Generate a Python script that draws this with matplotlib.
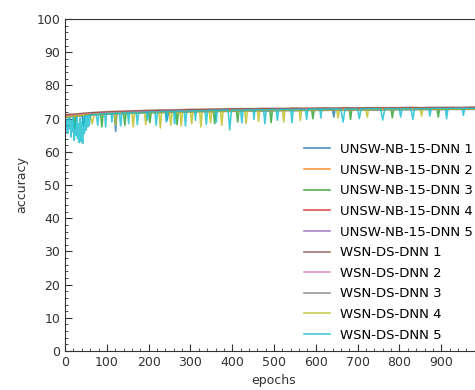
import matplotlib
matplotlib.use('Agg')
import matplotlib.pyplot as plt

# ---- data ----
labels = ['UNSW-NB-15-DNN 1', 'UNSW-NB-15-DNN 2', 'UNSW-NB-15-DNN 3',
          'UNSW-NB-15-DNN 4', 'UNSW-NB-15-DNN 5', 'WSN-DS-DNN 1',
          'WSN-DS-DNN 2', 'WSN-DS-DNN 3', 'WSN-DS-DNN 4', 'WSN-DS-DNN 5']

colors = ['#1f77b4', '#ff7f0e', '#2ca02c', '#d62728', '#9467bd',
          '#8c564b', '#e377c2', '#7f7f7f', '#bcbd22', '#17becf']

# shared coarse grid for the smoother runs
grid_epochs = [0, 25, 50, 75, 100, 125, 150, 175, 200, 225, 250, 275, 300, 325,
               350, 375, 400, 425, 450, 475, 500, 525, 550, 575, 600, 625, 650,
               675, 700, 725, 750, 775, 800, 825, 850, 875, 900, 925, 950, 975, 999]

unsw1_epochs = [0, 40, 44, 48, 100, 118, 121, 124, 180, 240, 244, 248, 330, 430,
                500, 600, 640, 643, 646, 750, 850, 999]
unsw1_acc = [70.9, 71.2, 68.0, 71.3, 71.8, 71.9, 66.2, 71.9, 72.1, 72.3, 69.5, 72.3,
             72.6, 72.8, 72.9, 73.0, 73.0, 70.5, 73.0, 73.0, 73.1, 73.2]

unsw2_acc = [71.1, 71.2, 71.5, 71.8, 71.9, 72.1, 72.0, 72.3, 72.3, 72.4, 72.5, 72.4,
             72.6, 72.7, 72.6, 72.8, 72.8, 72.9, 72.8, 72.9, 73.0, 72.9, 73.0, 73.1,
             73.0, 73.1, 73.0, 73.1, 73.1, 73.0, 73.2, 73.1, 73.1, 73.2, 73.2, 73.1,
             73.2, 73.3, 73.2, 73.3, 73.2]

unsw3_epochs = [0, 20, 23, 26, 50, 85, 88, 91, 140, 143, 146, 200, 203, 206, 265,
                268, 271, 320, 355, 358, 361, 410, 413, 416, 490, 493, 496, 590,
                593, 596, 680, 683, 686, 780, 783, 786, 890, 893, 896, 999]
unsw3_acc = [70.8, 70.9, 66.8, 71.0, 71.3, 71.6, 67.5, 71.6, 71.8, 68.0, 71.8, 72.0,
             68.8, 72.0, 72.2, 68.2, 72.2, 72.3, 72.4, 68.5, 72.4, 72.5, 69.0, 72.5,
             72.6, 68.8, 72.6, 72.7, 70.0, 72.7, 72.8, 69.8, 72.8, 72.9, 70.3, 72.9,
             72.9, 70.5, 73.0, 73.0]

unsw4_acc = [70.9, 71.1, 71.4, 71.7, 71.8, 71.9, 72.0, 72.1, 72.2, 72.3, 72.2, 72.4,
             72.5, 72.5, 72.6, 72.6, 72.7, 72.7, 72.8, 72.7, 72.8, 72.9, 72.8, 72.9,
             72.9, 73.0, 72.9, 73.0, 73.0, 73.1, 73.0, 73.0, 73.1, 73.0, 73.1, 73.1,
             73.1, 73.2, 73.1, 73.2, 73.2]

unsw5_acc = [70.6, 70.8, 71.1, 71.3, 71.5, 71.6, 71.7, 71.8, 71.9, 71.9, 72.0, 72.1,
             72.2, 72.2, 72.3, 72.3, 72.4, 72.4, 72.5, 72.4, 72.5, 72.6, 72.5, 72.6,
             72.6, 72.7, 72.6, 72.7, 72.7, 72.8, 72.7, 72.8, 72.8, 72.8, 72.9, 72.8,
             72.9, 72.9, 72.9, 73.0, 72.9]

wsn1_acc = [71.2, 71.4, 71.7, 71.9, 72.1, 72.2, 72.3, 72.4, 72.5, 72.6, 72.6, 72.7,
            72.8, 72.8, 72.9, 72.9, 73.0, 73.0, 73.0, 73.1, 73.1, 73.1, 73.2, 73.1,
            73.2, 73.2, 73.2, 73.3, 73.2, 73.3, 73.3, 73.3, 73.3, 73.4, 73.3, 73.4,
            73.4, 73.4, 73.4, 73.5, 73.4]

wsn2_acc = [70.7, 71.0, 71.3, 71.5, 71.7, 71.8, 71.9, 72.0, 72.1, 72.1, 72.2, 72.3,
            72.3, 72.4, 72.4, 72.5, 72.5, 72.6, 72.6, 72.6, 72.7, 72.7, 72.7, 72.8,
            72.8, 72.8, 72.8, 72.9, 72.8, 72.9, 72.9, 72.9, 73.0, 72.9, 73.0, 73.0,
            73.0, 73.0, 73.1, 73.0, 73.1]

wsn3_acc = [70.4, 70.7, 71.0, 71.2, 71.4, 71.5, 71.6, 71.7, 71.8, 71.8, 71.9, 72.0,
            72.0, 72.1, 72.1, 72.2, 72.2, 72.3, 72.3, 72.3, 72.4, 72.4, 72.4, 72.5,
            72.5, 72.5, 72.6, 72.5, 72.6, 72.6, 72.6, 72.7, 72.7, 72.7, 72.7, 72.8,
            72.7, 72.8, 72.8, 72.8, 72.8]

wsn4_epochs = [0, 30, 60, 65, 70, 100, 118, 121, 124, 160, 163, 166, 190, 193, 196,
               225, 228, 231, 250, 253, 256, 275, 278, 281, 300, 303, 306, 322, 325,
               328, 345, 348, 351, 372, 375, 378, 400, 430, 433, 436, 460, 463, 466,
               520, 523, 526, 560, 563, 566, 650, 653, 656, 720, 723, 726, 850, 853,
               856, 999]
wsn4_acc = [70.5, 70.9, 71.3, 68.5, 71.3, 71.5, 71.6, 68.0, 71.6, 71.7, 67.5, 71.7,
            71.8, 68.2, 71.8, 71.9, 67.2, 71.9, 72.0, 68.0, 72.0, 72.0, 67.8, 72.1,
            72.1, 68.5, 72.1, 72.2, 67.5, 72.2, 72.2, 68.8, 72.3, 72.3, 68.0, 72.3,
            72.4, 72.4, 68.5, 72.4, 72.5, 69.2, 72.5, 72.5, 69.0, 72.6, 72.6, 69.5,
            72.6, 72.7, 70.2, 72.7, 72.7, 70.5, 72.8, 72.8, 70.8, 72.8, 72.9]

wsn5_epochs = [0, 2, 4, 6, 8, 10, 12, 14, 16, 18, 20, 22, 24, 26, 28, 30, 32, 34,
               36, 38, 40, 42, 44, 46, 48, 50, 52, 54, 56, 58, 60,
               75, 78, 81, 95, 97, 99, 110, 112, 114, 130, 133, 136, 150, 152, 154,
               170, 173, 176, 195, 197, 199, 215, 218, 221, 240, 242, 244, 260, 262,
               264, 285, 288, 291, 310, 312, 314, 335, 338, 341, 360, 362, 364, 390,
               394, 398, 420, 423, 426, 450, 452, 454, 475, 478, 481, 505, 508, 511,
               540, 543, 546, 575, 578, 581, 610, 612, 614, 660, 665, 670, 700, 704,
               708, 755, 760, 765, 800, 803, 806, 828, 832, 836, 870, 873, 876, 910,
               913, 916, 950, 953, 956, 999]
wsn5_acc = [70.2, 66.5, 69.8, 65.5, 70.0, 67.0, 70.3, 64.5, 69.5, 66.0, 70.4, 63.5,
            69.0, 65.0, 70.5, 64.0, 68.5, 62.8, 70.2, 63.2, 69.0, 62.5, 70.6, 65.5,
            70.8, 66.5, 71.0, 67.5, 71.1, 68.0, 71.2,
            71.3, 68.0, 71.4, 71.5, 67.5, 71.5, 71.6, 69.0, 71.6, 71.7, 67.8, 71.7,
            71.8, 68.5, 71.8, 71.9, 68.2, 71.9, 72.0, 69.5, 72.0, 72.1, 68.0, 72.1,
            72.2, 69.0, 72.2, 72.2, 68.5, 72.3, 72.3, 67.8, 72.3, 72.4, 69.5, 72.4,
            72.4, 68.3, 72.5, 72.5, 69.0, 72.5, 72.6, 66.6, 72.6, 72.6, 68.8, 72.6,
            72.7, 69.8, 72.7, 72.7, 68.5, 72.7, 72.8, 69.5, 72.8, 72.8, 68.8, 72.8,
            72.8, 69.8, 72.9, 72.9, 70.2, 72.9, 72.9, 69.0, 72.9, 72.9, 70.0, 73.0,
            73.0, 69.6, 73.0, 73.0, 70.5, 73.0, 73.0, 69.8, 73.0, 73.0, 70.8, 73.1,
            73.1, 70.0, 73.1, 73.1, 71.0, 73.1, 73.1]

xticks = [0, 100, 200, 300, 400, 500, 600, 700, 800, 900]
yticks = [0, 10, 20, 30, 40, 50, 60, 70, 80, 90, 100]


def plot_accuracy():
    """Accuracy per epoch for all ten runs"""
    fig = plt.figure(figsize=(4.75, 3.9), dpi=100)
    ax = fig.add_axes([0.137, 0.1, 0.879, 0.851])

    series = [
        (unsw1_epochs, unsw1_acc),
        (grid_epochs, unsw2_acc),
        (unsw3_epochs, unsw3_acc),
        (grid_epochs, unsw4_acc),
        (grid_epochs, unsw5_acc),
        (grid_epochs, wsn1_acc),
        (grid_epochs, wsn2_acc),
        (grid_epochs, wsn3_acc),
        (wsn4_epochs, wsn4_acc),
        (wsn5_epochs, wsn5_acc),
    ]
    for (ep, acc), lab, col in zip(series, labels, colors):
        ax.plot(ep, acc, color=col, lw=1.2, alpha=0.8, label=lab)

    ax.set_xlim(0, 999)
    ax.set_ylim(0, 100)
    ax.set_xticks(xticks)
    ax.set_yticks(yticks)
    ax.minorticks_on()
    ax.tick_params(which='both', direction='in', colors='#333333', labelsize=9)
    ax.tick_params(which='major', length=5)
    ax.tick_params(which='minor', length=2.5)
    for sp in ax.spines.values():
        sp.set_color('#333333')

    ax.set_xlabel('epochs', fontsize=9, color='#333333')
    ax.set_ylabel('accuracy', fontsize=9, color='#333333', labelpad=6)

    # legend sits in the lower right, no frame
    ax.legend(loc='lower right', frameon=False, fontsize=9.5, labelspacing=0.58,
              borderaxespad=0.3)

    plt.savefig('out.png', dpi=100)
    plt.close()


if __name__ == "__main__":
    plot_accuracy()
